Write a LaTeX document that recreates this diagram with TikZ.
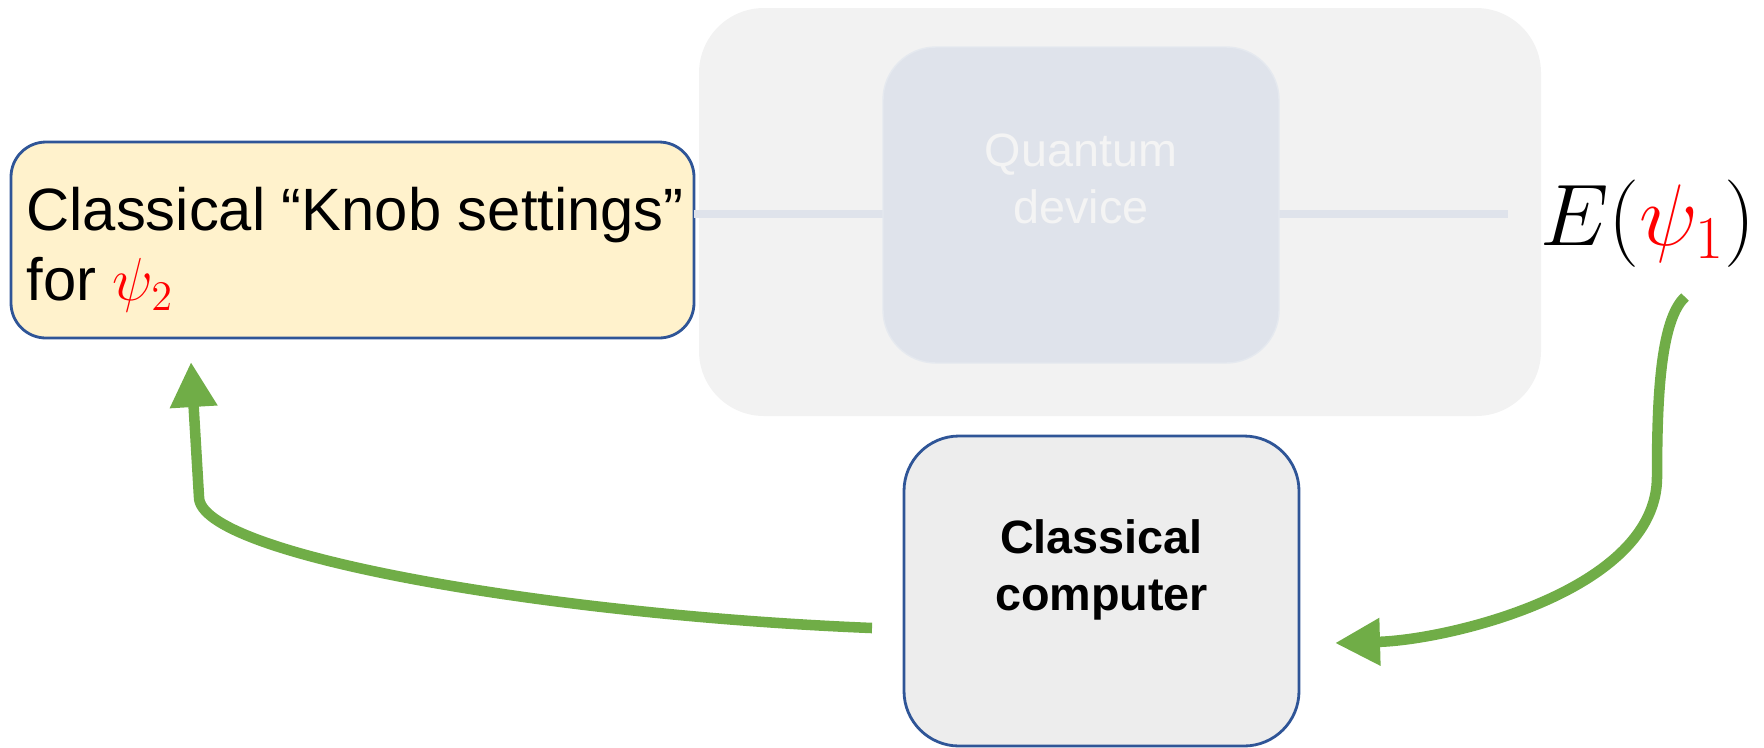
\documentclass[tikz,border=0pt]{standalone}
\usepackage[no-math]{fontspec}
\setmainfont{Liberation Sans}
\usetikzlibrary{arrows.meta}

\definecolor{panelgrey}{HTML}{F2F2F2}
\definecolor{devicefill}{HTML}{DFE3EB}
\definecolor{devicetext}{HTML}{F4F4F4}
\definecolor{knobfill}{HTML}{FFF2CC}
\definecolor{compfill}{HTML}{EDEDED}
\definecolor{boxblue}{HTML}{2F5597}
\definecolor{loopgreen}{HTML}{70AD47}
\definecolor{psired}{HTML}{FF0000}

\begin{document}
\begin{tikzpicture}[
	roundbox/.style={rectangle, rounded corners=#1, inner sep=0pt, outer sep=0pt},
	loop arrow/.style={draw=loopgreen, line width=3pt,
		-{Triangle[length=0.45cm,width=0.45cm]}}
	]
	\useasboundingbox (0,0) rectangle (17.64,-7.47);
	
	% Outer panel
	\node [roundbox=0.65cm,
	fill=panelgrey,
	minimum width=8.42cm,
	minimum height=4.08cm] (panel) at (11.20,-2.12){};
	
	% Knob settings
	\node [roundbox=0.35cm,
	draw=boxblue,
	line width=0.8pt,
	fill=knobfill,
	minimum width=6.83cm,
	minimum height=1.96cm] (knob) at (3.525,-2.40){};
	
	\node [align=left,
	anchor=west,
	font=\fontsize{17}{20}\selectfont] (knobText) at ([xshift=0.03cm,yshift=-0.10cm]knob.west)
	{Classical “Knob settings”\\for {\color{psired}$\psi_2$}};
	
	% Signal line
	\coordinate (lineEnd) at (15.08,-2.14);
	\draw [devicefill, line width=2.5pt] (knob.east |- lineEnd) -- (lineEnd);
	
	% Quantum device
	\node [roundbox=0.53cm,
	fill=devicefill,
	draw=devicefill!80!white,
	minimum width=3.96cm,
	minimum height=3.16cm] (device) at (10.81,-2.05){};
	
	\node [align=center,
	text=devicetext,
	font=\fontsize{13.3}{16}\selectfont] (deviceText) at (10.81,-1.79)
	{Quantum\\device};
	
	% Expectation value
	\node [font=\fontsize{24}{28}\selectfont] (energy) at (16.48,-2.24)
	{$E({\color{psired}\psi_1})$};
	
	% Classical computer
	\node [roundbox=0.55cm,
	draw=boxblue,
	line width=0.8pt,
	fill=compfill,
	minimum width=3.95cm,
	minimum height=3.10cm] (comp) at (11.015,-5.91){};
	
	\node [align=center,
	font=\fontsize{13.3}{16.2}\selectfont\bfseries] (compText) at ([yshift=0.21cm]comp.center)
	{Classical\\computer};
	
	% Feedback loop
	\coordinate (energyOut) at (16.85,-2.97);
	\coordinate (compIn) at ([xshift=0.36cm,yshift=-0.52cm]comp.east);
	\draw [loop arrow] (energyOut) .. controls (16.60,-3.20) and (16.57,-4.00) .. (16.57,-4.77)
	.. controls (16.57,-5.90) and (14.50,-6.40) .. (compIn);
	
	\coordinate (compOut) at ([xshift=-0.32cm,yshift=-0.37cm]comp.west);
	\coordinate (knobIn) at ([xshift=-1.615cm,yshift=-0.24cm]knob.south);
	\draw [loop arrow] (compOut) .. controls (5.5,-6.15) and (1.99,-5.55) .. (1.99,-4.97)
	-- (knobIn);
	
\end{tikzpicture}
\end{document}
